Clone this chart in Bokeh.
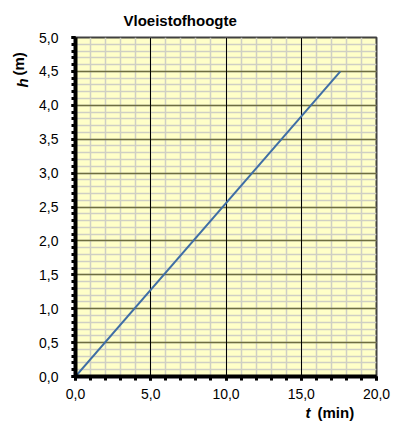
from bokeh.plotting import figure
from bokeh.models import SingleIntervalTicker, Range1d, Title, Grid
from bokeh.embed import file_html
from bokeh.resources import INLINE

# data
t_min = [0.0, 17.6]
h_m = [0.0, 4.5]
x_ticks = [0, 5, 10, 15, 20]
x_tick_labels = ["0,0", "5,0", "10,0", "15,0", "20,0"]
y_ticks = [0.0, 0.5, 1.0, 1.5, 2.0, 2.5, 3.0, 3.5, 4.0, 4.5, 5.0]
y_tick_labels = ["0,0", "0,5", "1,0", "1,5", "2,0", "2,5", "3,0", "3,5", "4,0", "4,5", "5,0"]
title_text = "Vloeistofhoogte"
x_label_var, x_label_unit = "t", "(min)"
y_label_var, y_label_unit = "h", "(m)"

FONT = "Liberation Sans"

p = figure(width=393, height=422, output_backend="svg", toolbar_location=None,
           x_range=Range1d(0, 20), y_range=Range1d(0, 5),
           min_border_left=75, min_border_right=17, min_border_top=36, min_border_bottom=46)
p.background_fill_color = "#ffffc8"
p.border_fill_color = "white"
p.outline_line_color = "#404040"
p.outline_line_width = 2

xt = SingleIntervalTicker(interval=5, num_minor_ticks=5)
yt = SingleIntervalTicker(interval=0.5, num_minor_ticks=5)
p.xaxis.ticker = xt
p.yaxis.ticker = yt

p.xaxis.major_label_overrides = {v: s for v, s in zip(x_ticks, x_tick_labels)}
p.yaxis.major_label_overrides = {v: s for v, s in zip(y_ticks, y_tick_labels)}

for ax in (p.xaxis, p.yaxis):
    ax.axis_line_width = 4
    ax.axis_line_color = "black"
    ax.major_tick_line_width = 3
    ax.minor_tick_line_width = 3
    ax.major_tick_out = 4
    ax.major_tick_in = 0
    ax.minor_tick_out = 4
    ax.minor_tick_in = 0
    ax.major_label_text_font = FONT
    ax.major_label_text_font_size = "14px"
    ax.major_label_text_color = "black"
p.xaxis.major_label_standoff = 8
p.yaxis.major_label_standoff = 13

# minor grids (drawn first)
p.xgrid.ticker = xt
p.ygrid.ticker = yt
p.xgrid.grid_line_color = None
p.ygrid.grid_line_color = None
p.xgrid.minor_grid_line_color = "#cfcfc4"
p.xgrid.minor_grid_line_width = 1.5
p.ygrid.minor_grid_line_color = "#cfcfc4"
p.ygrid.minor_grid_line_width = 1.5
# major grids on top
p.add_layout(Grid(dimension=1, ticker=yt, grid_line_color="#6e6e40", grid_line_width=1.5,
                  minor_grid_line_color=None))
p.add_layout(Grid(dimension=0, ticker=xt, grid_line_color="black", grid_line_width=1,
                  minor_grid_line_color=None))

p.line(t_min, h_m, line_color="#3f6ea5", line_width=2)

# title
p.title.visible = False
p.add_layout(Title(text=title_text, align="left", offset=48, standoff=18,
                   text_font=FONT, text_font_size="15px", text_font_style="bold",
                   text_color="black"), "above")
# y label
p.add_layout(Title(text=y_label_var, align="left", offset=289, standoff=11,
                   text_font=FONT, text_font_size="15px", text_font_style="bold italic",
                   text_color="black"), "left")
p.add_layout(Title(text=y_label_unit, align="left", offset=301, standoff=-40,
                   text_font=FONT, text_font_size="15px", text_font_style="bold",
                   text_color="black"), "left")
# x label
p.add_layout(Title(text=x_label_var, align="left", offset=230, standoff=0,
                   text_font=FONT, text_font_size="15px", text_font_style="bold italic",
                   text_color="black"), "below")
p.add_layout(Title(text=x_label_unit, align="left", offset=242, standoff=-34,
                   vertical_align="top",
                   text_font=FONT, text_font_size="15px", text_font_style="bold",
                   text_color="black"), "below")

open("out.html", "w").write(file_html(p, INLINE))
